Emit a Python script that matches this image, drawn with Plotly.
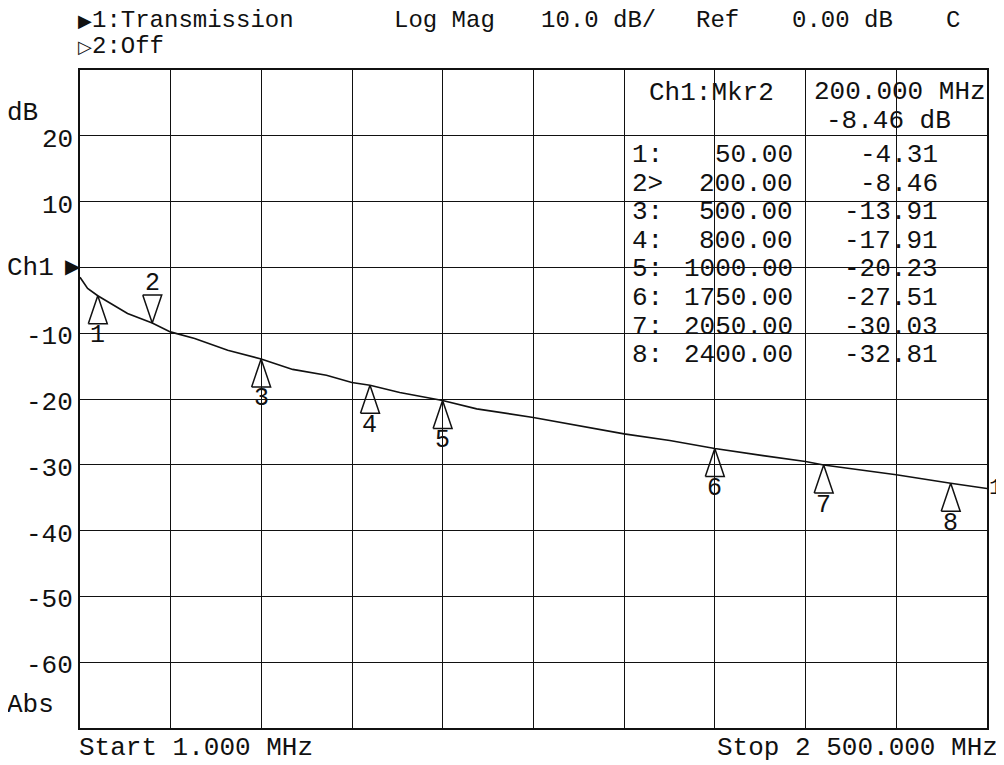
import plotly.graph_objects as go

# trace (MHz, dB)
trace_freq_mhz = [1, 22, 50, 86, 132, 200, 250, 317, 408, 500, 587, 680, 750, 800,
                  882, 1000, 1094, 1250, 1370, 1500, 1626, 1750, 1883, 2000, 2050,
                  2142, 2250, 2400, 2500]
trace_db = [-1.5, -3.2, -4.31, -5.5, -7.0, -8.46, -9.8, -10.8, -12.6, -13.91, -15.5,
            -16.4, -17.5, -17.91, -19.0, -20.23, -21.5, -22.8, -24.0, -25.3, -26.3,
            -27.51, -28.6, -29.5, -30.03, -30.7, -31.5, -32.81, -33.6]

marker_ids = [1, 2, 3, 4, 5, 6, 7, 8]
marker_freq_mhz = [50, 200, 500, 800, 1000, 1750, 2050, 2400]
marker_db = [-4.31, -8.46, -13.91, -17.91, -20.23, -27.51, -30.03, -32.81]
active_marker = 2

y_tick_vals = [20, 10, -10, -20, -30, -40, -50, -60]
start_mhz, stop_mhz = 1.0, 2500.0
top_db, bottom_db = 30, -70
scale_db, ref_db = 10.0, 0.0

# page body has an 8px margin, so the figure sits at (8, 8) in the window
PAGE_OFF = 8
WIN_W, WIN_H = 1004, 765
FIG_W, FIG_H = WIN_W - PAGE_OFF, WIN_H - PAGE_OFF
# plot area in window pixels
PLOT_L, PLOT_R, PLOT_T, PLOT_B = 80, 987, 70, 728
FONT = "Liberation Mono"
INK = "#111111"


def paper(x, y):
    return (x - PLOT_L) / (PLOT_R - PLOT_L), (PLOT_B - y) / (PLOT_B - PLOT_T)


annotations = []


def label(x, y, text, anchor="left", size=26):
    px, py = paper(x, y)
    annotations.append(dict(
        x=px, y=py, xref="paper", yref="paper", text=text, showarrow=False,
        xanchor=anchor, yanchor="middle", borderpad=0,
        font=dict(family=FONT, size=size, color=INK),
    ))


fig = go.Figure()
fig.add_trace(go.Scatter(
    x=trace_freq_mhz, y=trace_db, mode="lines",
    line=dict(color=INK, width=1.6), hoverinfo="skip",
))

# marker glyphs: tall open triangles with the tip on the trace
px_per_mhz = (PLOT_R - PLOT_L) / (stop_mhz - start_mhz)
px_per_db = (PLOT_B - PLOT_T) / (top_db - bottom_db)
half_w = 9.5 / px_per_mhz
tri_h = 28 / px_per_db
tx, ty = [], []
for n, f, v in zip(marker_ids, marker_freq_mhz, marker_db):
    d = tri_h if n == active_marker else -tri_h
    tx += [f - half_w, f, f + half_w, f - half_w, None]
    ty += [v + d, v, v + d, v + d, None]
fig.add_trace(go.Scatter(
    x=tx, y=ty, mode="lines", line=dict(color=INK, width=1.5), hoverinfo="skip",
))

for n, f, v in zip(marker_ids, marker_freq_mhz, marker_db):
    annotations.append(dict(
        x=f, y=v, text=str(n), showarrow=False, xanchor="center", yanchor="middle",
        yshift=40 if n == active_marker else -40,
        font=dict(family=FONT, size=25, color=INK),
    ))

# channel label at the end of the trace
annotations.append(dict(
    x=trace_freq_mhz[-1], y=trace_db[-1], text="1", showarrow=False,
    xanchor="left", yanchor="middle", xshift=1, borderpad=0,
    font=dict(family=FONT, size=22, color=INK),
))

# header
label(77, 21, "<span style='font-size:18px'>▶</span>1:Transmission", size=24)
label(77, 46, "<span style='font-size:18px'>▷</span>2:Off", size=24)
label(393, 21, "Log Mag", size=24)
label(540, 21, f"{scale_db:.1f} dB/", size=24)
label(695, 21, "Ref", size=24)
label(791, 21, f"{ref_db:.2f} dB", size=24)
label(945, 21, "C", size=24)

# y labels
for v in y_tick_vals:
    ypx = PLOT_B - (v - bottom_db) * px_per_db
    label(74, ypx + 4, str(v), anchor="right")
label(6, 113, "dB")
label(6, 268, "Ch1")
label(82, 267, "▶", anchor="right", size=20)
label(6, 705, "Abs")

# footer
label(78, 748, f"Start {start_mhz:.3f} MHz")
stop_txt = f"{stop_mhz:,.3f}".replace(",", " ")
label(999, 748, f"Stop {stop_txt} MHz", anchor="right")

# marker table
ai = marker_ids.index(active_marker)
label(648, 93, f"Ch1:Mkr{active_marker}")
label(813, 92, f"{marker_freq_mhz[ai]:.3f} MHz")
label(825, 121, f"{marker_db[ai]:.2f} dB")
for i, (n, f, v) in enumerate(zip(marker_ids, marker_freq_mhz, marker_db)):
    ypx = 155 + i * 28.6
    label(631, ypx, f"{n}>" if n == active_marker else f"{n}:")
    label(794, ypx, f"{f:.2f}", anchor="right")
    label(939, ypx, f"{v:.2f}", anchor="right")

fig.update_layout(
    width=FIG_W, height=FIG_H,
    margin=dict(l=PLOT_L - PAGE_OFF, r=FIG_W - (PLOT_R - PAGE_OFF),
                t=PLOT_T - PAGE_OFF, b=FIG_H - (PLOT_B - PAGE_OFF), pad=0),
    paper_bgcolor="white", plot_bgcolor="white",
    showlegend=False, annotations=annotations,
    xaxis=dict(
        range=[start_mhz, stop_mhz], tick0=start_mhz, dtick=(stop_mhz - start_mhz) / 10,
        showgrid=True, gridcolor=INK, gridwidth=1.4, showticklabels=False, ticks="",
        showline=True, linecolor=INK, linewidth=1.6, mirror=True, zeroline=False,
        fixedrange=True,
    ),
    yaxis=dict(
        range=[bottom_db, top_db], tick0=bottom_db, dtick=scale_db,
        showgrid=True, gridcolor=INK, gridwidth=1.4, showticklabels=False, ticks="",
        showline=True, linecolor=INK, linewidth=1.6, mirror=True, zeroline=False,
        fixedrange=True,
    ),
)

fig.write_html("out.html")
